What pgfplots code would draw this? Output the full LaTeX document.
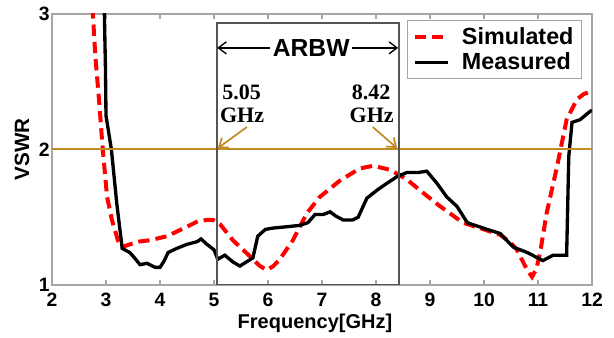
\documentclass[border=0pt]{standalone}
\usepackage{pgfplots}
\pgfplotsset{compat=1.18}
\usetikzlibrary{arrows.meta}
\usepackage{fontspec}
\setmainfont{Liberation Sans}
\newfontfamily\serifb{Liberation Serif}
\definecolor{gold}{RGB}{192,140,35}
\definecolor{axgray}{RGB}{165,165,165}
\definecolor{boxgray}{RGB}{85,85,85}
\definecolor{simred}{RGB}{255,0,0}
\begin{document}
\begin{tikzpicture}
\path[use as bounding box] (-39pt,-39.75pt) rectangle (421.5pt,213.75pt);
\begin{axis}[
  at={(0,0)}, anchor=south west,
  scale only axis, width=405pt, height=203.25pt,
  xmin=2, xmax=12, ymin=1, ymax=3,
  xtick={2,3,...,12}, ytick={1,2,3},
  axis line style={axgray, line width=0.8pt},
  tick align=inside,
  xtick pos=both,
  ytick pos=left,
  major tick length=3.75pt,
  xtick style={axgray, line width=0.8pt},
  ytick style={draw=none},
  /pgf/number format/assume math mode=true,
  ticklabel style={font=\fontsize{14.5}{16}\selectfont\bfseries},
  xticklabel style={yshift=-2.5pt},
  yticklabel style={xshift=1.8pt},
  every axis x label/.style={at={(axis description cs:0.487,-0.14)}, anchor=center},
  every axis y label/.style={at={(axis description cs:-0.0555,0.5)}, rotate=90, anchor=center},
  xlabel={\fontsize{15}{17}\selectfont\bfseries Frequency[GHz]},
  ylabel={\fontsize{15.5}{17}\selectfont\bfseries VSWR},
  legend style={at={(rel axis cs:0.657,0.978)}, anchor=north west,
    draw=axgray, line width=0.8pt, fill=white,
    font=\fontsize{17.5}{20}\selectfont\bfseries,
    inner xsep=4pt, inner ysep=3pt, row sep=1pt,
    /tikz/every odd column/.append style={column sep=7pt}},
  legend cell align=left,
  legend image code/.code={\draw[#1] (0pt,0pt) -- (25pt,0pt);},
]
\addplot[simred, line width=3pt, dash pattern=on 8.5pt off 4.5pt] coordinates {
(2.75,3.05)(2.80,2.70)(2.87,2.37)(2.94,2.00)(3.02,1.65)(3.11,1.48)(3.22,1.33)(3.30,1.28)
(3.44,1.30)(3.60,1.32)(3.81,1.33)(4.13,1.36)(4.50,1.43)(4.70,1.47)(4.87,1.48)(4.98,1.48)
(5.11,1.45)(5.35,1.33)(5.67,1.21)(5.85,1.14)(5.98,1.11)(6.10,1.14)(6.22,1.19)(6.46,1.33)
(6.72,1.53)(6.96,1.65)(7.33,1.77)(7.70,1.86)(7.95,1.88)(8.26,1.85)(8.57,1.78)(8.81,1.70)
(9.19,1.58)(9.61,1.46)(10.00,1.41)(10.30,1.37)(10.50,1.31)(10.61,1.26)(10.80,1.11)(10.89,1.06)
(10.97,1.12)(11.04,1.24)(11.16,1.53)(11.35,1.87)(11.53,2.22)(11.72,2.37)(11.85,2.41)(12.00,2.43)
};
\addlegendentry{Simulated}
\addplot[black, line width=2.5pt] coordinates {
(2.96,3.10)(2.97,3.00)(2.99,2.60)(3.00,2.25)(3.10,2.00)(3.20,1.60)(3.30,1.27)(3.44,1.24)
(3.55,1.19)(3.63,1.15)(3.76,1.16)(3.91,1.13)(4.00,1.13)(4.08,1.18)(4.15,1.24)(4.31,1.27)
(4.50,1.30)(4.69,1.32)(4.76,1.34)(4.87,1.30)(5.00,1.26)(5.07,1.19)(5.20,1.22)(5.35,1.17)
(5.48,1.14)(5.60,1.17)(5.72,1.20)(5.81,1.36)(5.95,1.41)(6.09,1.42)(6.35,1.43)(6.59,1.44)
(6.74,1.46)(6.87,1.52)(7.02,1.52)(7.15,1.54)(7.25,1.51)(7.39,1.48)(7.57,1.48)(7.67,1.50)
(7.83,1.64)(8.02,1.70)(8.20,1.75)(8.39,1.80)(8.57,1.83)(8.78,1.83)(8.94,1.84)(9.13,1.75)
(9.31,1.65)(9.50,1.58)(9.69,1.46)(10.06,1.41)(10.30,1.38)(10.54,1.28)(10.80,1.24)(11.09,1.18)
(11.28,1.22)(11.46,1.22)(11.53,1.22)(11.57,1.95)(11.63,2.20)(11.78,2.22)(11.96,2.28)(12.00,2.29)
};
\addlegendentry{Measured}
\draw[gold, line width=1.5pt] (axis cs:2,2) -- (axis cs:12,2);
\draw[boxgray, line width=1.5pt] (axis cs:5.05,1) rectangle (axis cs:8.42,2.936);
\node[font=\fontsize{18.5}{20}\selectfont\bfseries, inner sep=2pt] (arbw) at (axis cs:6.80,2.75) {ARBW};
\draw[-{Straight Barb[length=6pt,width=9pt]}, line width=1pt] (arbw.west) -- (axis cs:5.06,2.75);
\draw[-{Straight Barb[length=6pt,width=9pt]}, line width=1pt] (arbw.east) -- (axis cs:8.41,2.75);
\node[font=\serifb\fontsize{16.5}{18}\selectfont\bfseries] at (axis cs:5.51,2.42) {5.05};
\node[font=\serifb\fontsize{16.5}{18}\selectfont\bfseries] at (axis cs:5.52,2.25) {GHz};
\node[font=\serifb\fontsize{16.5}{18}\selectfont\bfseries] at (axis cs:7.91,2.42) {8.42};
\node[font=\serifb\fontsize{16.5}{18}\selectfont\bfseries] at (axis cs:7.92,2.25) {GHz};
\draw[gold, line width=1.3pt, -{Straight Barb[length=6pt,width=9pt]}] (axis cs:5.61,2.166) -- (axis cs:5.07,2.01);
\draw[gold, line width=1.3pt, -{Straight Barb[length=6pt,width=9pt]}] (axis cs:7.94,2.166) -- (axis cs:8.39,2.01);
\end{axis}
\end{tikzpicture}
\end{document}
